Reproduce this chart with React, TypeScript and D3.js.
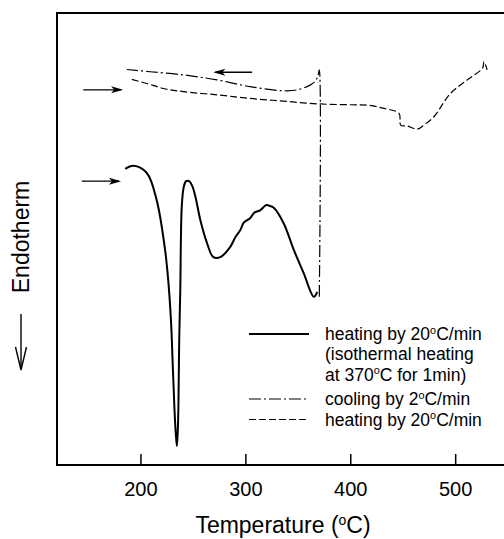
import React from "react";
import * as d3 from "d3";

// Temperature (°C) vs heat flow (arbitrary units, endotherm down)
const heat1T = [185, 193, 205.6, 215, 223, 226, 228.6, 230.5, 232, 233.3, 234.3, 235.3, 235.8, 236.5, 237.5, 238.9, 240.8, 243, 246, 249, 252, 256.6, 263, 269, 275.7, 285, 290, 294.8, 298, 304, 308, 314, 318, 320, 323, 326.6, 336, 345.7, 355, 364.8, 368];
const heat1V = [65.5, 66.2, 64.6, 58.6, 47.6, 40.9, 32.1, 21.0, 12.2, 6.6, 4.2, 8.8, 14.4, 27.7, 38.7, 57.1, 61.5, 62.8, 62.8, 61.7, 59.3, 54.2, 49.1, 46.0, 46.0, 48.2, 50.4, 52.0, 53.6, 54.6, 55.8, 56.4, 57.3, 57.5, 57.3, 56.9, 53.5, 47.6, 42.5, 37.2, 38.3];

const coolT = [370, 370, 368.5, 366, 361.6, 349, 336, 304, 272.5, 240.6, 208.8, 186.6];
const coolV = [37.2, 87.4, 85.9, 84.9, 84.1, 83.0, 82.8, 83.7, 85.2, 86.3, 87.0, 87.5];

const heat2T = [191.3, 205.6, 221.5, 240.6, 272.5, 304, 336, 368, 400, 416, 431.6, 446, 447.6, 454, 463.5, 469.8, 479.4, 495, 511, 525.6, 527, 530];
const heat2V = [85.3, 84.4, 83.3, 82.6, 81.9, 81.1, 80.5, 79.9, 79.7, 79.6, 78.9, 77.8, 75.2, 75.0, 74.3, 75.2, 77.1, 82.2, 85.2, 87.8, 89.2, 87.4];

const xTicks = [200, 300, 400, 500];

// direction arrows: [startT, endT, value]
const arrowSolid = [143.6, 181, 62.8];
const arrowDashed = [145, 183, 83.0];
const arrowCool = [306, 269, 86.9];

const legendLabels = [
  ["heating by 20", "C/min"],
  ["(isothermal heating"],
  ["at 370", "C for 1min)"],
  ["cooling by 2", "C/min"],
  ["heating by 20", "C/min"],
];

const W = 504;
const H = 539;
const left = 57;
const top = 13;
const bottom = 465;

const x = d3.scaleLinear().domain([120, 547]).range([left, 505]);
const y = d3.scaleLinear().domain([0, 100]).range([bottom, top]);

const line = d3
  .line<[number, number]>()
  .x((d) => x(d[0]))
  .y((d) => y(d[1]))
  .curve(d3.curveCatmullRom.alpha(0.5));

const zip = (a: number[], b: number[]) => a.map((t, i) => [t, b[i]] as [number, number]);

const font = "Liberation Sans, Arial, sans-serif";

function Arrow({ a }: { a: number[] }) {
  const x1 = x(a[0]);
  const x2 = x(a[1]);
  const yy = y(a[2]);
  const dir = Math.sign(x2 - x1);
  const hl = 12;
  return (
    <g>
      <line x1={x1} y1={yy} x2={x2 - dir * 2} y2={yy} stroke="#000" strokeWidth={1.4} />
      <path
        d={`M${x2},${yy} L${x2 - dir * hl},${yy - 3.5} L${x2 - dir * (hl - 3)},${yy} L${x2 - dir * hl},${yy + 3.5} Z`}
        fill="#000"
      />
    </g>
  );
}

function Label({ parts, xx, yy, size }: { parts: string[]; xx: number; yy: number; size: number }) {
  return (
    <text x={xx} y={yy} fontSize={size} fontFamily={font} fill="#000">
      {parts[0]}
      {parts.length > 1 && (
        <>
          <tspan dy={-size * 0.38} fontSize={size * 0.62}>o</tspan>
          <tspan dy={size * 0.38}>{parts[1]}</tspan>
        </>
      )}
    </text>
  );
}

export default function App() {
  const legendRows = [334, 354, 374.5, 399, 419.5];
  const legendLines = [
    { row: 0, dash: undefined, w: 2 },
    { row: 3, dash: "12,3,2,3", w: 1.2 },
    { row: 4, dash: "7,3", w: 1.2 },
  ];
  return (
    <svg width={W} height={H} style={{ position: "absolute", left: 0, top: 0 }}>
      <rect width={W} height={H} fill="#fff" />
      {/* frame */}
      <path d={`M${W + 2},${top} L${left},${top} L${left},${bottom} L${W + 2},${bottom}`} fill="none" stroke="#000" strokeWidth={2} />
      {xTicks.map((t) => (
        <g key={t}>
          <line x1={x(t)} x2={x(t)} y1={bottom} y2={bottom - 11} stroke="#000" strokeWidth={1.5} />
          <text x={x(t)} y={496} textAnchor="middle" fontSize={20} fontFamily={font}>
            {t}
          </text>
        </g>
      ))}
      <text x={283} y={533} textAnchor="middle" fontSize={23} fontFamily={font}>
        Temperature (<tspan dy={-8} fontSize={14}>o</tspan>
        <tspan dy={8}>C)</tspan>
      </text>
      <text transform="translate(29,237) rotate(-90)" textAnchor="middle" fontSize={23} fontFamily={font}>
        Endotherm
      </text>
      <line x1={21} x2={21} y1={314} y2={368} stroke="#000" strokeWidth={1.4} />
      <path d="M15.5,347 L21,370 L26.5,347" fill="none" stroke="#000" strokeWidth={1.4} />

      <path d={line(zip(heat1T, heat1V)) || ""} fill="none" stroke="#000" strokeWidth={2} />
      <path d={line(zip(coolT, coolV)) || ""} fill="none" stroke="#000" strokeWidth={1.2} strokeDasharray="12,3,2,3" />
      <path d={line(zip(heat2T, heat2V)) || ""} fill="none" stroke="#000" strokeWidth={1.2} strokeDasharray="7,3" />

      <Arrow a={arrowSolid} />
      <Arrow a={arrowDashed} />
      <Arrow a={arrowCool} />

      {legendLines.map((l) => (
        <line key={l.row} x1={249} x2={309} y1={legendRows[l.row]} y2={legendRows[l.row]} stroke="#000" strokeWidth={l.w} strokeDasharray={l.dash} />
      ))}
      {legendLabels.map((p, i) => (
        <Label key={i} parts={p} xx={325} yy={legendRows[i] + 6.3} size={17.5} />
      ))}
    </svg>
  );
}
